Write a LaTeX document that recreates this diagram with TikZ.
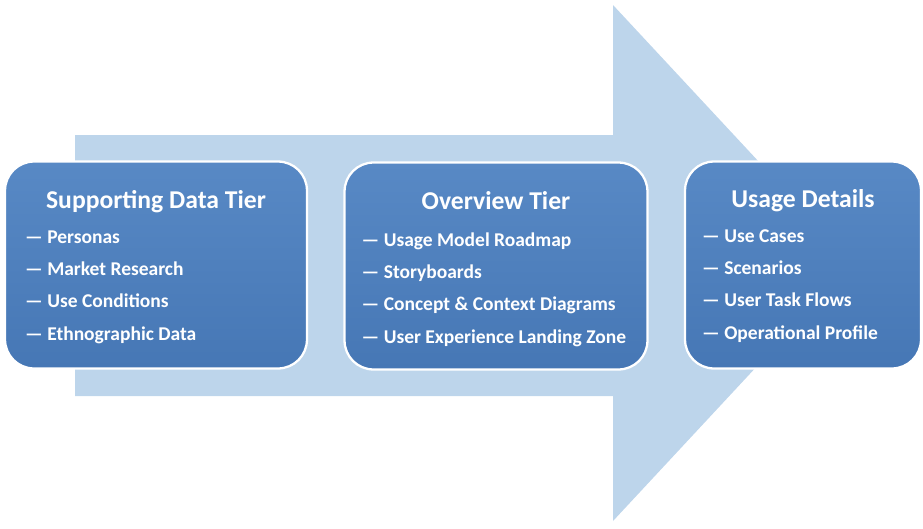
\documentclass[tikz,border=0pt]{standalone}
\usepackage{fontspec}
\setmainfont{Carlito}
\usetikzlibrary{positioning}
\definecolor{arrowBg}{HTML}{BDD5EB}
\definecolor{tierTop}{HTML}{5889C5}
\definecolor{tierBottom}{HTML}{4677B5}

\begin{document}
\begin{tikzpicture}[x=0.02cm, y=-0.02cm,
    tier/.style={draw=white, line width=1.3pt, rounded corners=0.58cm,
        top color=tierTop, bottom color=tierBottom,
        minimum height=4.14cm, inner sep=0pt},
    tiertitle/.style={text=white, anchor=base, inner sep=0pt,
        font=\fontsize{14.6}{16}\selectfont\bfseries},
    tieritem/.style={text=white, anchor=base west, inner sep=0pt,
        font=\fontsize{11.1}{13}\selectfont\bfseries}]
    \useasboundingbox (0,0) rectangle (923,528);

    % big background arrow
    \fill[arrowBg] (75,135) -- (613,135) -- (613,5) -- (853,263)
        -- (613,521) -- (613,396) -- (75,396) -- cycle;

    % the three tiers
    \node[tier, minimum width=6.04cm] (support) at (156,265) {};
    \node[tier, minimum width=6.06cm] (overview) at (496,266) {};
    \node[tier, minimum width=4.72cm] (usage) at (803,265) {};

    \node[tiertitle] (supportTitle) at ([yshift=-0.96cm]support.north) {Supporting Data Tier};
    \node[tiertitle] (overviewTitle) at ([yshift=-0.96cm]overview.north) {Overview Tier};
    \node[tiertitle] (usageTitle) at ([yshift=-0.94cm]usage.north) {Usage Details};

    \node[tieritem] (supA) at ([xshift=0.42cm, yshift=-1.66cm]support.north west) {\textemdash\ Personas};
    \node[tieritem] (supB) at ([yshift=-0.645cm]supA.base west) {\textemdash\ Market Research};
    \node[tieritem] (supC) at ([yshift=-0.645cm]supB.base west) {\textemdash\ Use Conditions};
    \node[tieritem] (supD) at ([yshift=-0.645cm]supC.base west) {\textemdash\ Ethnographic Data};

    \node[tieritem] (ovA) at ([xshift=0.36cm, yshift=-1.70cm]overview.north west) {\textemdash\ Usage Model Roadmap};
    \node[tieritem] (ovB) at ([yshift=-0.645cm]ovA.base west) {\textemdash\ Storyboards};
    \node[tieritem] (ovC) at ([yshift=-0.645cm]ovB.base west) {\textemdash\ Concept \& Context Diagrams};
    \node[tieritem] (ovD) at ([yshift=-0.645cm]ovC.base west) {\textemdash\ User Experience Landing Zone};

    \node[tieritem] (useA) at ([xshift=0.36cm, yshift=-1.64cm]usage.north west) {\textemdash\ Use Cases};
    \node[tieritem] (useB) at ([yshift=-0.645cm]useA.base west) {\textemdash\ Scenarios};
    \node[tieritem] (useC) at ([yshift=-0.645cm]useB.base west) {\textemdash\ User Task Flows};
    \node[tieritem] (useD) at ([yshift=-0.645cm]useC.base west) {\textemdash\ Operational Profile};
\end{tikzpicture}
\end{document}
